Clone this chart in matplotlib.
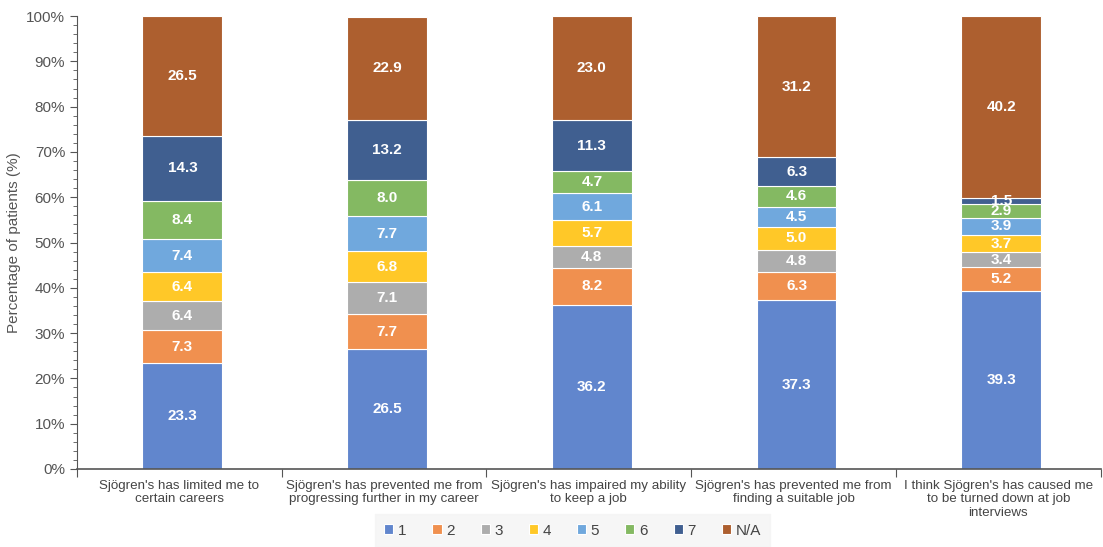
import numpy as np
import matplotlib.pyplot as plt
from matplotlib.ticker import MultipleLocator, FuncFormatter

# 類別與資料
categories = [
    "Sjögren's has limited me to\ncertain careers",
    "Sjögren's has prevented me from\nprogressing further in my career",
    "Sjögren's has impaired my ability\nto keep a job",
    "Sjögren's has prevented me from\nfinding a suitable job",
    "I think Sjögren's has caused me\nto be turned down at job\ninterviews",
]
series_names = ["1", "2", "3", "4", "5", "6", "7", "N/A"]
s1 = [23.3, 26.5, 36.2, 37.3, 39.3]
s2 = [7.3, 7.7, 8.2, 6.3, 5.2]
s3 = [6.4, 7.1, 4.8, 4.8, 3.4]
s4 = [6.4, 6.8, 5.7, 5.0, 3.7]
s5 = [7.4, 7.7, 6.1, 4.5, 3.9]
s6 = [8.4, 8.0, 4.7, 4.6, 2.9]
s7 = [14.3, 13.2, 11.3, 6.3, 1.5]
s_na = [26.5, 22.9, 23.0, 31.2, 40.2]
series = [s1, s2, s3, s4, s5, s6, s7, s_na]

colors = ["#6186cd", "#f0904f", "#adadad", "#ffc828", "#70a8dd",
          "#84b962", "#405f90", "#ad5f2f"]

fig = plt.figure(figsize=(11.03, 5.47), dpi=100)
ax = fig.add_axes([0.0698, 0.1426, 0.928, 0.828])

x = np.arange(len(categories))
bottom = np.zeros(len(categories))
for name, vals, c in zip(series_names, series, colors):
    vals = np.array(vals)
    ax.bar(x + 0.015, vals, 0.39, bottom=bottom, color=c, edgecolor="white",
           linewidth=0.8, label=name)
    for xi, b, v in zip(x, bottom, vals):
        ax.text(xi + 0.015, b + v / 2, "%.1f" % v, ha="center", va="center",
                color="white", fontsize=11, fontweight="bold",
                family="Liberation Sans")
    bottom += vals

ax.set_xlim(-0.5, len(categories) - 0.5)
ax.set_ylim(0, 100)
ax.yaxis.set_major_locator(MultipleLocator(10))
ax.yaxis.set_minor_locator(MultipleLocator(2))
ax.yaxis.set_major_formatter(FuncFormatter(lambda v, p: "%d%%" % v))
ax.tick_params(axis="y", which="major", length=5, direction="out",
               labelsize=11, colors="#555555", labelcolor="#555555")
ax.tick_params(axis="y", which="minor", length=3, colors="#555555")
for t in ax.get_yticklabels():
    t.set_family("Liberation Sans")
ax.set_ylabel("Percentage of patients (%)", fontsize=11, color="#555555",
              family="Liberation Sans", labelpad=4)

# x軸: 類別邊界刻度, 標籤放中間
ax.set_xticks(np.arange(-0.5, len(categories), 1.0))
ax.set_xticklabels([])
ax.tick_params(axis="x", which="major", length=6, colors="#555555")
ax.set_xticks(x, minor=True)
ax.set_xticklabels(categories, minor=True, fontsize=9.6, color="#444444",
                   family="Liberation Sans", linespacing=1.15)
ax.tick_params(axis="x", which="minor", length=0, pad=8)

for side in ["top", "right"]:
    ax.spines[side].set_visible(False)
ax.spines["left"].set_color("#555555")
ax.spines["bottom"].set_color("#555555")
ax.spines["bottom"].set_linewidth(1.2)

leg = fig.legend(loc="lower center", bbox_to_anchor=(0.519, -0.008), ncol=8,
                 frameon=True, handlelength=0.6,
                 handleheight=0.6, columnspacing=1.7, handletextpad=0.3,
                 prop={"family": "Liberation Sans", "size": 11})
leg.get_frame().set_facecolor("#f4f4f4")
leg.get_frame().set_edgecolor("#f4f4f4")
leg.get_frame().set_boxstyle("square", pad=0.2)
for t in leg.get_texts():
    t.set_color("#444444")

fig.savefig("out.png", dpi=100)
